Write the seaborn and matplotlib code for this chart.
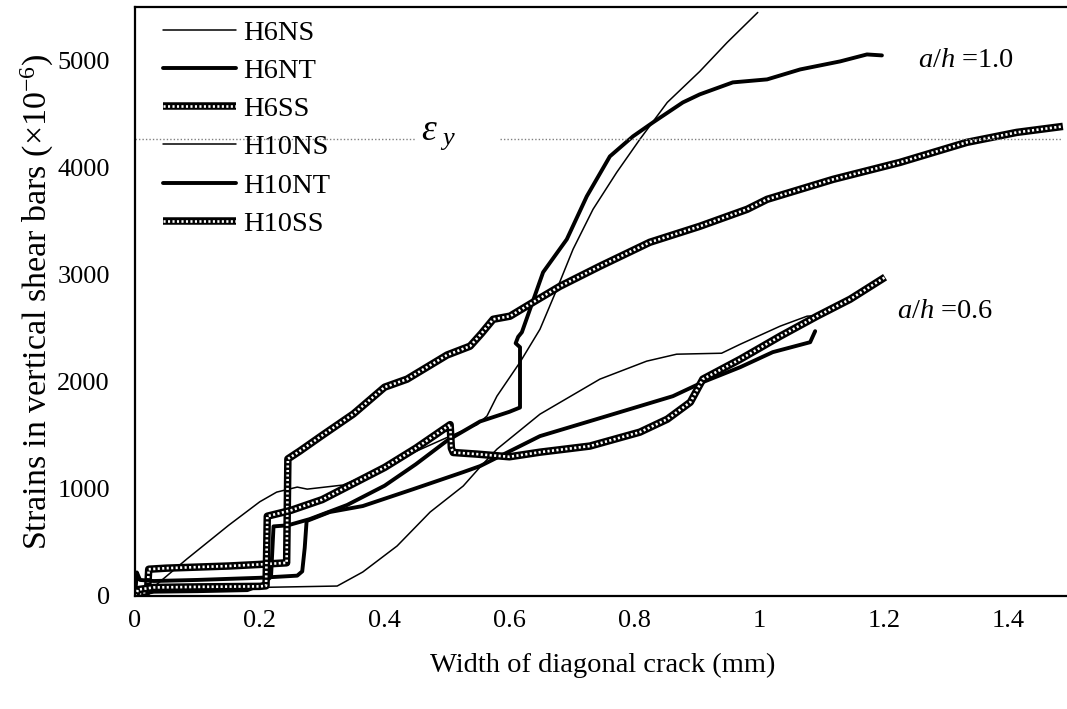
import numpy as np
import pandas as pd
import matplotlib
matplotlib.use("Agg")
import matplotlib.pyplot as plt
import seaborn as sns
from matplotlib.lines import Line2D

# ---------------- data ----------------
h6ns_x = [0, 0.025, 0.083, 0.15, 0.2, 0.227, 0.26, 0.276, 0.333, 0.4, 0.45, 0.5, 0.548, 0.564,
          0.58, 0.617, 0.649, 0.676, 0.702, 0.734, 0.772, 0.809, 0.853, 0.905, 0.949, 0.998]
h6ns_y = [0, 60, 345, 660, 880, 970, 1017, 998, 1036, 1200, 1350, 1480, 1600, 1680,
          1866, 2183, 2491, 2864, 3238, 3611, 3956, 4264, 4609, 4898, 5169, 5449]

h6nt_x = [0, 0.01, 0.03, 0.1, 0.18, 0.205, 0.218, 0.222, 0.245, 0.28, 0.34, 0.4, 0.45, 0.5,
          0.553, 0.6, 0.617, 0.617, 0.61, 0.614, 0.62, 0.654, 0.692, 0.724, 0.761, 0.798, 0.83,
          0.878, 0.905, 0.958, 1.013, 1.066, 1.13, 1.173, 1.197]
h6nt_y = [0, 20, 40, 45, 55, 110, 180, 650, 660, 718, 850, 1030, 1230, 1450,
          1630, 1720, 1760, 2323, 2360, 2420, 2463, 3023, 3331, 3732, 4105, 4292, 4422,
          4609, 4684, 4796, 4824, 4917, 4992, 5057, 5048]

h6ss_x = [0, 0.01, 0.02, 0.022, 0.05, 0.1, 0.15, 0.2, 0.243, 0.245, 0.264, 0.3, 0.35, 0.38, 0.4,
          0.436, 0.5, 0.537, 0.555, 0.574, 0.601, 0.638, 0.681, 0.745, 0.825, 0.905, 0.981,
          1.013, 1.119, 1.226, 1.333, 1.413, 1.487]
h6ss_y = [0, 30, 40, 250, 260, 270, 280, 295, 310, 1280, 1353, 1500, 1700, 1850, 1950,
          2025, 2250, 2333, 2450, 2584, 2613, 2743, 2892, 3079, 3303, 3452, 3611,
          3704, 3891, 4049, 4236, 4329, 4385]

h10ns_x = [0, 0.01, 0.05, 0.2, 0.324, 0.365, 0.42, 0.473, 0.526, 0.553, 0.58, 0.649, 0.745,
           0.82, 0.868, 0.94, 0.97, 1.034, 1.077, 1.1]
h10ns_y = [0, 50, 70, 80, 93, 224, 467, 784, 1027, 1204, 1371, 1698, 2025,
           2193, 2258, 2267, 2351, 2520, 2613, 2620]

h10nt_x = [0, 0.003, 0.008, 0.03, 0.1, 0.2, 0.26, 0.268, 0.272, 0.275, 0.312, 0.365, 0.446, 0.526,
           0.553, 0.649, 0.756, 0.862, 0.91, 0.97, 1.022, 1.082, 1.09]
h10nt_y = [0, 220, 150, 140, 150, 170, 190, 230, 450, 700, 784, 840, 998, 1157,
           1213, 1493, 1680, 1866, 1997, 2137, 2277, 2370, 2473]

h10ss_x = [0, 0.005, 0.03, 0.1, 0.2, 0.21, 0.212, 0.25, 0.3, 0.35, 0.4, 0.45, 0.5, 0.505, 0.507,
           0.51, 0.548, 0.6, 0.649, 0.729, 0.809, 0.853, 0.89, 0.91, 0.97, 1.034, 1.093, 1.146, 1.202]
h10ss_y = [0, 60, 80, 85, 90, 95, 745, 800, 900, 1050, 1200, 1380, 1580, 1600, 1380,
           1340, 1325, 1300, 1343, 1400, 1530, 1651, 1810, 2025, 2211, 2426, 2613, 2771, 2977]

labels = ["H6NS", "H6NT", "H6SS", "H10NS", "H10NT", "H10SS"]
x_ticks = [0, 0.2, 0.4, 0.6, 0.8, 1.0, 1.2, 1.4]
x_tick_labels = ["0", "0.2", "0.4", "0.6", "0.8", "1", "1.2", "1.4"]
y_ticks = [0, 1000, 2000, 3000, 4000, 5000]
eps_y = 4265

# ---------------- style ----------------
sns.set_theme(style="white")
plt.rcParams["font.family"] = ["Liberation Serif", "DejaVu Serif"]
plt.rcParams["mathtext.fontset"] = "custom"
plt.rcParams["mathtext.rm"] = "Liberation Serif"
plt.rcParams["mathtext.it"] = "Liberation Serif:italic"
plt.rcParams["mathtext.bf"] = "Liberation Serif:bold"
plt.rcParams["text.color"] = "black"
plt.rcParams["axes.labelcolor"] = "black"
plt.rcParams["xtick.color"] = "black"
plt.rcParams["ytick.color"] = "black"

FS = 20.5
TFS = 19
fig = plt.figure(figsize=(10.67, 7.09), dpi=100)
ax = fig.add_axes([135 / 1067, 113 / 709, 936 / 1067, 589 / 709])

series = [(h6ns_x, h6ns_y, "NS"), (h6nt_x, h6nt_y, "NT"), (h6ss_x, h6ss_y, "SS"),
          (h10ns_x, h10ns_y, "NS"), (h10nt_x, h10nt_y, "NT"), (h10ss_x, h10ss_y, "SS")]

SS_OUT = dict(color="black", lw=5.4, solid_capstyle="butt")
SS_IN = dict(color="white", lw=1.9, dashes=(0.8, 0.9), dash_capstyle="butt")
handles = []
for (xs, ys, kind), lab in zip(series, labels):
    df = pd.DataFrame({"x": xs, "y": ys})
    if kind == "NS":
        sns.lineplot(data=df, x="x", y="y", sort=False, estimator=None, ax=ax,
                     color="black", lw=1.1)
        handles.append(Line2D([], [], color="black", lw=1.1))
    elif kind == "NT":
        sns.lineplot(data=df, x="x", y="y", sort=False, estimator=None, ax=ax,
                     color="black", lw=2.8)
        handles.append(Line2D([], [], color="black", lw=2.8))
    else:
        sns.lineplot(data=df, x="x", y="y", sort=False, estimator=None, ax=ax, **SS_OUT)
        sns.lineplot(data=df, x="x", y="y", sort=False, estimator=None, ax=ax, **SS_IN)
        handles.append((Line2D([], [], **SS_OUT), Line2D([], [], **SS_IN)))

# yield strain line (broken around the label)
ax.plot([0, 0.448], [eps_y, eps_y], color="gray", lw=1.0, ls=(0, (1, 1.5)))
ax.plot([0.585, 1.485], [eps_y, eps_y], color="gray", lw=1.0, ls=(0, (1, 1.5)))
ax.text(0.458, eps_y + 40, r"$\varepsilon_{\ y}$", fontsize=27, va="center", ha="left",
        color="black")

ax.text(1.255, 5000, r"$a/h$ =1.0", fontsize=FS, va="center", ha="left", color="black")
ax.text(1.221, 2655, r"$a/h$ =0.6", fontsize=FS, va="center", ha="left", color="black")

ax.set_xlim(0, 1.5)
ax.set_ylim(0, 5500)
ax.set_xticks(x_ticks)
ax.set_xticklabels(x_tick_labels)
ax.set_yticks(y_ticks)
ax.tick_params(axis="both", direction="in", length=6.5, width=1.2, labelsize=TFS,
               colors="black")
ax.tick_params(axis="y", pad=18)
ax.tick_params(axis="x", pad=10)
for s in ax.spines.values():
    s.set_color("black")
    s.set_linewidth(1.6)

ax.set_xlabel("Width of diagonal crack (mm)", fontsize=FS, labelpad=15, color="black")
ax.set_ylabel(r"Strains in vertical shear bars ($\times$10$^{-6}$)", fontsize=24.5,
              color="black")
ax.yaxis.set_label_coords(-0.084, 0.5)

leg = ax.legend(handles, labels, loc="upper left", bbox_to_anchor=(28 / 936, 1 - 13 / 589),
                frameon=False, fontsize=FS, handlelength=2.55, handletextpad=0.27,
                labelspacing=0.43, borderpad=0, borderaxespad=0, labelcolor="black")

fig.savefig("out.png", dpi=100)
